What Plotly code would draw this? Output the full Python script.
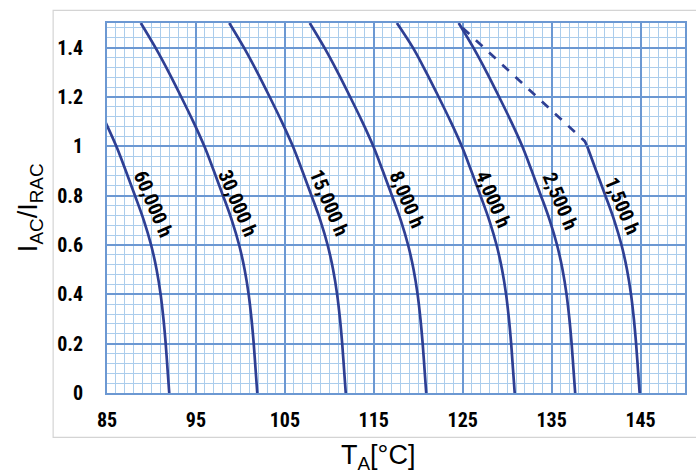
import plotly.graph_objects as go

# ---- data ----
y_60000 = [1.1, 1.0, 0.9, 0.8, 0.7, 0.6, 0.5, 0.4, 0.3, 0.2, 0.1, 0.0]
x_60000 = [84.8, 86.05, 87.12, 88.15, 89.14, 89.96, 90.58, 91.03, 91.35, 91.6, 91.8, 92.0]

y_full = [1.5, 1.4, 1.3, 1.2, 1.1, 1.0, 0.9, 0.8, 0.7, 0.6, 0.5, 0.4, 0.3, 0.2, 0.1, 0.0]
x_30000 = [88.8, 90.45, 91.95, 93.35, 94.7, 95.95, 97.02, 98.05, 99.04, 99.86, 100.48, 100.93, 101.25, 101.5, 101.7, 101.9]
x_15000 = [98.75, 100.4, 101.9, 103.3, 104.65, 105.9, 106.97, 108.0, 108.99, 109.81, 110.43, 110.88, 111.2, 111.45, 111.65, 111.85]
x_8000 = [107.8, 109.45, 110.95, 112.35, 113.7, 114.95, 116.02, 117.05, 118.04, 118.86, 119.48, 119.93, 120.25, 120.5, 120.7, 120.9]
x_4000 = [117.6, 119.4, 120.9, 122.3, 123.65, 124.9, 125.97, 127.0, 127.99, 128.81, 129.43, 129.88, 130.2, 130.45, 130.65, 130.85]
x_2500 = [124.55, 126.2, 127.7, 129.1, 130.45, 131.7, 132.77, 133.8, 134.79, 135.61, 136.23, 136.68, 137.0, 137.25, 137.45, 137.65]

y_1500 = [1.0, 0.9, 0.8, 0.7, 0.6, 0.5, 0.4, 0.3, 0.2, 0.1, 0.0]
x_1500 = [139.0, 140.02, 141.05, 142.04, 142.86, 143.48, 143.93, 144.25, 144.5, 144.7, 144.9]
x_1500_dash = [125.0, 138.75, 139.0]
y_1500_dash = [1.48, 1.02, 1.0]

label_text = ["60,000 h", "30,000 h", "15,000 h", "8,000 h", "4,000 h", "2,500 h", "1,500 h"]
label_x = [90.2, 99.7, 110.0, 118.7, 128.4, 136.0, 143.0]
label_y = [0.765, 0.77, 0.77, 0.785, 0.785, 0.78, 0.76]

# ---- styling ----
CURVE = "#2e3f94"
MAJOR = "#6c98d2"
MINOR = "#abcdec"
BOLD_FONT = "Liberation Sans Narrow, Roboto Condensed, DejaVu Sans Condensed, Arial Narrow, sans-serif"
REG_FONT = "Liberation Sans, Arial, sans-serif"

fig = go.Figure()
line = dict(color=CURVE, width=2.7, shape="spline", smoothing=1.0)

series = [
    (x_60000, y_60000),
    (x_30000, y_full),
    (x_15000, y_full),
    (x_8000, y_full),
    (x_4000, y_full),
    (x_2500, y_full),
    (x_1500, y_1500),
]
for xs, ys in series:
    fig.add_trace(go.Scatter(x=xs, y=ys, mode="lines", line=line,
                             hoverinfo="skip", showlegend=False))

fig.add_trace(go.Scatter(x=x_1500_dash, y=y_1500_dash, mode="lines",
                         line=dict(color=CURVE, width=2.7, dash="dash"),
                         hoverinfo="skip", showlegend=False))

for t, xv, yv in zip(label_text, label_x, label_y):
    fig.add_annotation(x=xv, y=yv, xref="x", yref="y", text=t, showarrow=False,
                       textangle=67,
                       font=dict(family=BOLD_FONT, size=20, color="black", weight="bold"))

# axis titles
fig.add_annotation(x=-0.133, y=0.50, xref="paper", yref="paper",
                   text="I<sub>AC</sub>/I<sub>RAC</sub>", showarrow=False,
                   textangle=-90, xanchor="center", yanchor="middle",
                   font=dict(family=REG_FONT, size=27, color="black"))
fig.add_annotation(x=0.468, y=-0.172, xref="paper", yref="paper",
                   text="T<sub>A</sub>[°C]", showarrow=False,
                   xanchor="center", yanchor="middle",
                   font=dict(family=REG_FONT, size=27, color="black"))

# outer light frame
fig.add_shape(type="rect", xref="paper", yref="paper",
              x0=-0.0932, x1=1.05, y0=-0.1197, y1=1.0343,
              line=dict(color="#d4d4d4", width=1.2), fillcolor="rgba(0,0,0,0)",
              layer="below")

fig.update_xaxes(range=[85, 150], tick0=85, dtick=10, showgrid=True,
                 gridcolor=MAJOR, gridwidth=1.6,
                 minor=dict(dtick=1, tick0=85, showgrid=True, gridcolor=MINOR, gridwidth=1.3),
                 showline=True, linecolor=MAJOR, linewidth=1.6, mirror=True,
                 ticks="outside", ticklen=8, tickcolor="rgba(0,0,0,0)",
                 tickfont=dict(family=BOLD_FONT, size=20, color="black", weight="bold"),
                 zeroline=False, fixedrange=True)
fig.update_yaxes(range=[0, 1.5], tick0=0, dtick=0.2, showgrid=True,
                 gridcolor=MAJOR, gridwidth=1.6,
                 minor=dict(dtick=0.04, tick0=0, showgrid=True, gridcolor=MINOR, gridwidth=1.3),
                 showline=True, linecolor=MAJOR, linewidth=1.6, mirror=True,
                 ticks="outside", ticklen=18, tickcolor="rgba(0,0,0,0)",
                 tickfont=dict(family=BOLD_FONT, size=20, color="black", weight="bold"),
                 zeroline=False, fixedrange=True)

fig.update_layout(width=696, height=474,
                  margin=dict(l=107, r=9, t=23, b=81),
                  plot_bgcolor="white", paper_bgcolor="white",
                  showlegend=False)

fig.write_html("out.html")
